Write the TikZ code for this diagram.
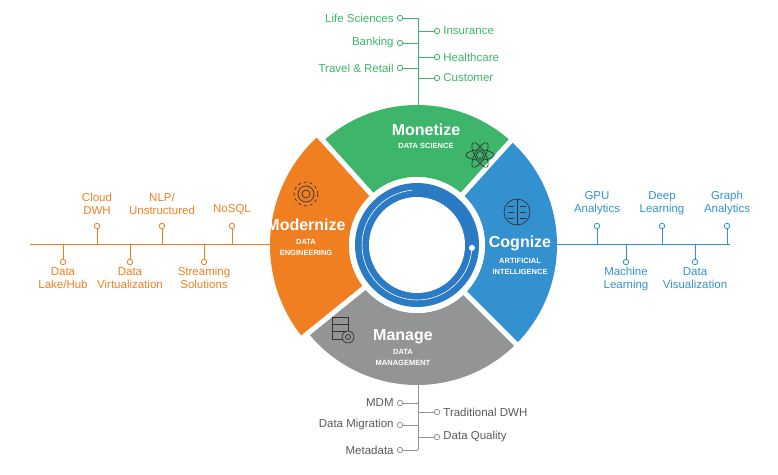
\documentclass[tikz,border=0pt]{standalone}
\usepackage{fontspec}
\setmainfont{Liberation Sans}
\begin{document}
\definecolor{cg}{HTML}{3DB56A}
\definecolor{cb}{HTML}{3391D0}
\definecolor{cbd}{HTML}{2A7BC4}
\definecolor{co}{HTML}{F07F22}
\definecolor{cgr}{HTML}{939496}
\begin{tikzpicture}[x=1pt,y=-1pt,
  lab/.style={font=\fontsize{11.5}{13}\selectfont,align=center,inner sep=1pt},
  dot/.style={circle,fill=white,line width=0.8pt,minimum size=5.5pt,inner sep=0pt},
  big/.style={font=\bfseries\fontsize{16}{18}\selectfont,text=white,inner sep=0pt},
  sub/.style={font=\bfseries\fontsize{7.5}{11}\selectfont,text=white,align=center,inner sep=0pt}]
\useasboundingbox (0,0) rectangle (778,474);
% ring
\begin{scope}[shift={(417,245)},y=1pt]
 \fill[cg] (48:140) arc (48:132:140) -- (132:68) arc (132:48:68) -- cycle;
 \fill[cb] (-45:140) arc (-45:48:140) -- (48:68) arc (48:-45:68) -- cycle;
 \fill[cgr] (-141:140) arc (-141:-45:140) -- (-45:68) arc (-45:-141:68) -- cycle;
 \fill[co] (132:147) arc (132:219:147) -- (219:68) arc (219:132:68) -- cycle;
 \foreach \a in {48,-45,-141,132} \draw[white,line width=5pt] (\a:64) -- (\a:150);
 \fill[white] (0,0) circle (68);
 \fill[cbd] (0,0) circle (62);
 \fill[white] (0,0) circle (48);
 \draw[white,line width=0.6pt] (95:55) arc (95:357:55);
 \fill[white] (357:55) circle (3);
 % icons
 \begin{scope}[shift={(63,90)},black!80,line width=0.7pt]
  \draw (0,0) ellipse (14 and 5); \draw[rotate=60] (0,0) ellipse (14 and 5); \draw[rotate=-60] (0,0) ellipse (14 and 5);
  \draw (0,0) circle (3.5);
 \end{scope}
 \begin{scope}[shift={(100,33)},black!80,line width=0.7pt]
  \draw (0,0) circle (13); \draw (0,-13) -- (0,13);
  \foreach \y in {-6,0,6} {\draw (-9,\y) -- (-3,\y); \draw (3,\y) -- (9,\y);}
 \end{scope}
 \begin{scope}[shift={(-111,51)},black!80,line width=0.7pt]
  \draw (0,0) circle (4); \draw (0,0) circle (8); \draw[dashed] (0,0) circle (12);
 \end{scope}
 \begin{scope}[shift={(-77,-82)},black!80,line width=0.7pt]
  \draw (-8,10) rectangle (8,-12); \draw (-8,3) -- (8,3); \draw (-8,-4) -- (8,-4);
  \draw[fill=cgr] (8,-10) circle (6); \draw (8,-10) circle (2.5);
 \end{scope}
\end{scope}
% texts in ring
\node[big] (mo) at (426,130) {Monetize};
\node[sub] at (426,146) {DATA SCIENCE};
\node[big] (co) at (520,243) {Cognize};
\node[sub] at (520,266) {ARTIFICIAL\\INTELLIGENCE};
\node[big] (md) at (306,225) {Modernize};
\node[sub] at (306,247) {DATA\\ENGINEERING};
\node[big] (ma) at (403,337) {Manage};
\node[sub] at (403,357) {DATA\\MANAGEMENT};
% green tree
\begin{scope}[draw=cg,line width=0.8pt,text=cg]
 \draw (418,18) -- (418,108);
 \foreach \y/\t/\n in {18/{Life Sciences}/a,43/{Banking}/b,68/{Travel \& Retail}/c} {
  \node[dot,draw=cg] (g\n) at (400,\y) {}; \draw (g\n) -- (418,\y);
  \node[lab,anchor=east] at (395,\y) {\t};}
 \foreach \y/\t/\n in {31/{Insurance}/d,57/{Healthcare}/e,78/{Customer}/f} {
  \node[dot,draw=cg] (g\n) at (437,\y) {}; \draw (418,\y) -- (g\n);
  \node[lab,anchor=west] at (442,\y) {\t};}
\end{scope}
% gray tree
\begin{scope}[draw=cgr,line width=0.8pt,text=cgr!60!black]
 \draw (418,385) -- (418,450);
 \foreach \y/\t/\n in {403/{MDM}/a,425/{Data Migration}/b,450/{Metadata}/c} {
  \node[dot,draw=cgr] (r\n) at (400,\y) {}; \draw (r\n) -- (418,\y);
  \node[lab,anchor=east] at (395,\y) {\t};}
 \foreach \y/\t/\n in {412/{Traditional DWH}/d,437/{Data Quality}/e} {
  \node[dot,draw=cgr] (r\n) at (437,\y) {}; \draw (418,\y) -- (r\n);
  \node[lab,anchor=west] at (442,\y) {\t};}
\end{scope}
% orange tree
\begin{scope}[draw=co,line width=0.8pt,text=co]
 \draw (30,244) -- (272,244);
 \foreach \x/\t/\n in {97/{Cloud\\DWH}/a,162/{NLP/\\Unstructured}/b,232/{NoSQL}/c} {
  \node[dot,draw=co] (o\n) at (\x,226) {}; \draw (o\n) -- (\x,244);
  \node[lab,anchor=south] at (\x,216) {\t};}
 \foreach \x/\t/\n in {63/{Data\\Lake/Hub}/d,130/{Data\\Virtualization}/e,204/{Streaming\\Solutions}/f} {
  \node[dot,draw=co] (o\n) at (\x,262) {}; \draw (\x,244) -- (o\n);
  \node[lab,anchor=north] at (\x,266) {\t};}
\end{scope}
% blue tree
\begin{scope}[draw=cb,line width=0.8pt,text=cb]
 \draw (557,244) -- (730,244);
 \foreach \x/\t/\n in {597/{GPU\\Analytics}/a,662/{Deep\\Learning}/b,727/{Graph\\Analytics}/c} {
  \node[dot,draw=cb] (b\n) at (\x,226) {}; \draw (b\n) -- (\x,244);
  \node[lab,anchor=south] at (\x,216) {\t};}
 \foreach \x/\t/\n in {626/{Machine\\Learning}/d,695/{Data\\Visualization}/e} {
  \node[dot,draw=cb] (b\n) at (\x,262) {}; \draw (\x,244) -- (b\n);
  \node[lab,anchor=north] at (\x,266) {\t};}
\end{scope}
\end{tikzpicture}
\end{document}
